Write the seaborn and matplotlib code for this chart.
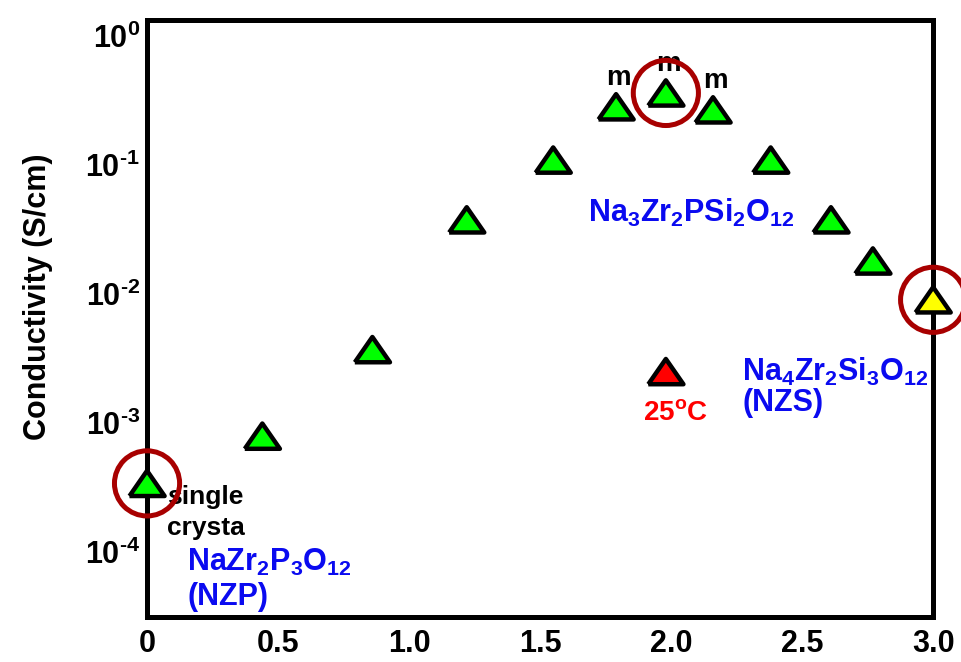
import numpy as np
import pandas as pd
import matplotlib
matplotlib.use('Agg')
import matplotlib.pyplot as plt
from matplotlib.markers import MarkerStyle
import seaborn as sns

# composition x and conductivity (S/cm)
x_comp = [0.0, 0.44, 0.86, 1.22, 1.55, 1.79, 1.98, 2.16, 2.38, 2.61, 2.77, 3.0, 1.98]
sigma = [3.4e-4, 7.9e-4, 3.7e-3, 0.0375, 0.109, 0.282, 0.361, 0.267, 0.109, 0.0375, 0.018, 0.009, 0.0025]
group = ['green'] * 11 + ['NZS', '25C']
circled = [0, 6, 11]
m_points = [5, 6, 7]

xtick_vals = [0, 0.5, 1.0, 1.5, 2.0, 2.5, 3.0]
xtick_labels = ['0', '0.5', '1.0', '1.5', '2.0', '2.5', '3.0']
ytick_vals = [1e-4, 1e-3, 1e-2, 1e-1, 1e0]
ytick_labels = [r'$10^{\text{-}4}$', r'$10^{\text{-}3}$', r'$10^{\text{-}2}$', r'$10^{\text{-}1}$', r'$10^{0}$']

palette = {'green': '#00FF00', 'NZS': '#FFFF00', '25C': '#FF0000'}

sns.set_style('white')
plt.rcParams['font.family'] = ['Liberation Sans', 'DejaVu Sans']
plt.rcParams['font.weight'] = 'bold'
plt.rcParams['text.color'] = 'black'
plt.rcParams['axes.labelcolor'] = 'black'
plt.rcParams['xtick.color'] = 'black'
plt.rcParams['ytick.color'] = 'black'
plt.rcParams['mathtext.fontset'] = 'custom'
plt.rcParams['mathtext.rm'] = 'Liberation Sans:bold'
plt.rcParams['mathtext.it'] = 'Liberation Sans:bold'
plt.rcParams['mathtext.bf'] = 'Liberation Sans:bold'
plt.rcParams['mathtext.default'] = 'rm'

df = pd.DataFrame({'x': x_comp, 'sigma': sigma, 'group': group})

fig = plt.figure(figsize=(9.61, 6.62), dpi=100)
ax = fig.add_axes([0.153, 0.068, 0.818, 0.902])

tri = MarkerStyle([(-1, -0.72), (1, -0.72), (0, 0.72), (-1, -0.72)])
sns.scatterplot(data=df, x='x', y='sigma', hue='group', palette=palette,
                marker=tri, s=640, edgecolor='black', linewidth=3.2,
                legend=False, ax=ax, zorder=5, clip_on=False)

circ = df.iloc[circled]
ax.scatter(circ['x'], circ['sigma'], s=2200, facecolors='none',
           edgecolors='#A80000', linewidths=3.6, zorder=6, clip_on=False)

for i in m_points:
    ax.annotate('m', (x_comp[i], sigma[i]), xytext=(2, 21), textcoords='offset points',
                ha='center', va='center', fontsize=20, fontweight='bold', color='black')

ax.set_yscale('log')
ax.set_xlim(0, 3.0)
ax.set_ylim(10 ** -4.504, 10 ** 0.124)
ax.set_xticks(xtick_vals, xtick_labels)
ax.set_yticks(ytick_vals, ytick_labels)
ax.yaxis.set_minor_locator(matplotlib.ticker.NullLocator())
ax.tick_params(axis='both', length=0, labelsize=22)
ax.tick_params(axis='x', pad=9)
ax.tick_params(axis='y', pad=5)
for lab in ax.get_xticklabels() + ax.get_yticklabels():
    lab.set_fontweight('bold')

ax.set_xlabel('')
ax.set_ylabel('Conductivity (S/cm)', fontsize=22, fontweight='bold')
ax.yaxis.set_label_coords(-0.12, 0.536)

for sp in ax.spines.values():
    sp.set_visible(True)
    sp.set_color('black')
    sp.set_linewidth(3.6)

blue = '#0A0AF0'
ax.text(0.076, 10 ** -3.574, 'single', fontsize=19, fontweight='bold', ha='left', va='center')
ax.text(0.076, 10 ** -3.814, 'crysta', fontsize=19, fontweight='bold', ha='left', va='center')
ax.text(0.153, 10 ** -4.078, r'$\mathrm{NaZr_2P_3O_{12}}$', fontsize=22, color=blue, ha='left', va='center')
ax.text(0.153, 10 ** -4.349, '(NZP)', fontsize=22, fontweight='bold', color=blue, ha='left', va='center')
ax.text(1.683, 10 ** -1.372, r'$\mathrm{Na_3Zr_2PSi_2O_{12}}$', fontsize=22, color=blue, ha='left', va='center')
ax.text(2.271, 10 ** -2.605, r'$\mathrm{Na_4Zr_2Si_3O_{12}}$', fontsize=22, color=blue, ha='left', va='center')
ax.text(2.271, 10 ** -2.845, '(NZS)', fontsize=22, fontweight='bold', color=blue, ha='left', va='center')
ax.text(2.015, 10 ** -2.922, r'25$^{\mathrm{o}}$C', fontsize=20, fontweight='bold', color='#FF0000', ha='center', va='center')

fig.savefig('out.png', dpi=100)
